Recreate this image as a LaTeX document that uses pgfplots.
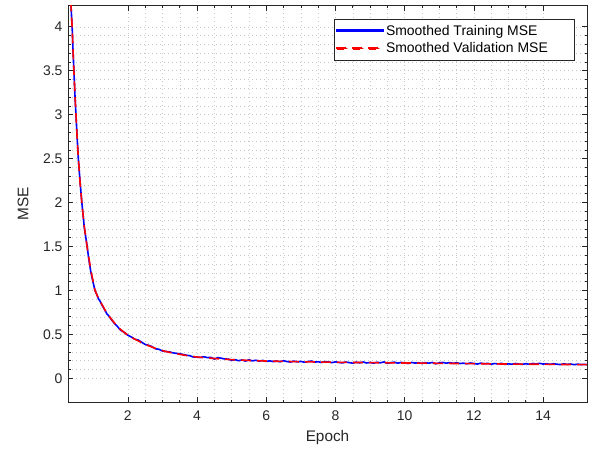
\documentclass[border=0pt]{standalone}
\usepackage{fontspec}
\setmainfont{Liberation Sans}
\usepackage{pgfplots}
\pgfplotsset{compat=1.18}
\usetikzlibrary{calc}
\definecolor{axgray}{gray}{0.15}
\definecolor{gridgray}{gray}{0.78}
\definecolor{mblue}{rgb}{0,0,1}
\definecolor{mred}{rgb}{1,0,0}
\begin{document}
\begin{tikzpicture}
\useasboundingbox (-68bp,-49bp) rectangle (525bp,402bp);
\begin{axis}[
  scale only axis,
  width=519bp, height=396.3bp,
  xmin=0.27, xmax=15.27,
  ymin=-0.27, ymax=4.24,
  xtick={2,4,...,14},
  ytick={0,0.5,...,4},
  yticklabels={0,0.5,1,1.5,2,2.5,3,3.5,4},
  minor x tick num=3,
  minor y tick num=4,
  grid=both,
  major grid style={gridgray, line width=0.5bp, dash pattern=on 1bp off 3bp},
  minor grid style={gridgray, line width=0.5bp, dash pattern=on 1bp off 3bp},
  tick align=inside,
  major tick length=5bp,
  minor tick length=2.5bp,
  axis line style={axgray, line width=0.6bp},
  every tick/.style={axgray, line width=0.6bp},
  tick label style={font=\fontsize{14}{16}\selectfont, text=axgray},
  /pgf/number format/assume math mode=true,
  xticklabel style={yshift=-5bp},
  yticklabel style={xshift=-2bp},
  xlabel={Epoch}, ylabel={MSE},
  label style={font=\fontsize{15.4}{17}\selectfont, text=axgray},
  xlabel style={at={($(axis description cs:0.5,0)+(0,-36bp)$)}, anchor=center},
  ylabel style={at={($(axis description cs:0,0.5)+(-45bp,0)$)}, anchor=center},
  legend style={at={(rel axis cs:0.975,0.967)}, anchor=north east,
    draw=axgray, fill=white,
    font=\fontsize{14}{16}\selectfont,
    inner xsep=2bp, inner ysep=4bp,
    row sep=2bp},
  legend cell align=left,
  clip=true,
]
\addplot[draw=mblue, line width=1.6bp,
  legend image code/.code={\fill[mblue] (0bp,-0.6bp) rectangle (46bp,0.6bp);}] coordinates {
(0.31,5.2) (0.33,4.7) (0.35,4.3) (0.37,4.14) (0.39,4.0) (0.415,3.73) (0.44,3.51) (0.47,3.23)
(0.50,3.0) (0.535,2.74) (0.57,2.49) (0.62,2.23) (0.67,2.0) (0.74,1.72) (0.82,1.51) (0.87,1.36)
(0.93,1.21) (0.99,1.10) (1.05,1.0) (1.10,0.955) (1.15,0.905) (1.20,0.875) (1.25,0.835) (1.30,0.80)
(1.35,0.765) (1.40,0.73) (1.45,0.71) (1.50,0.68) (1.55,0.655) (1.60,0.63) (1.65,0.61) (1.70,0.59)
(1.75,0.565) (1.80,0.545) (1.85,0.535) (1.90,0.52) (1.95,0.505) (2.00,0.49) (2.1,0.47) (2.2,0.445)
(2.3,0.435) (2.4,0.41) (2.5,0.385) (2.6,0.375) (2.7,0.36) (2.8,0.335) (2.9,0.33) (3.0,0.31)
(3.1,0.305) (3.2,0.30) (3.3,0.29) (3.4,0.283) (3.5,0.28) (3.6,0.27) (3.7,0.262) (3.8,0.256)
(3.9,0.24) (4.0,0.24) (4.1,0.237) (4.2,0.245) (4.3,0.235) (4.4,0.238) (4.5,0.218) (4.6,0.235)
(4.7,0.228) (4.8,0.22) (4.9,0.218) (5.0,0.205) (5.1,0.212) (5.2,0.20) (5.3,0.208) (5.4,0.196)
(5.5,0.21) (5.6,0.198) (5.7,0.205) (5.8,0.195) (5.9,0.203) (6.0,0.192) (6.1,0.198) (6.2,0.19)
(6.3,0.196) (6.4,0.188) (6.5,0.2) (6.6,0.19) (6.7,0.185) (6.8,0.195) (6.9,0.187) (7.0,0.192)
(7.1,0.183) (7.2,0.19) (7.3,0.196) (7.4,0.184) (7.5,0.188) (7.6,0.18) (7.7,0.19) (7.8,0.185)
(7.9,0.178) (8.0,0.187) (8.1,0.18) (8.2,0.175) (8.3,0.185) (8.4,0.178) (8.5,0.172) (8.6,0.183)
(8.7,0.176) (8.8,0.185) (8.9,0.174) (9.0,0.18) (9.1,0.172) (9.2,0.182) (9.3,0.176) (9.4,0.186)
(9.5,0.17) (9.6,0.178) (9.7,0.183) (9.8,0.172) (9.9,0.18) (10.0,0.176) (10.1,0.168) (10.2,0.18)
(10.3,0.173) (10.4,0.177) (10.5,0.168) (10.6,0.178) (10.7,0.172) (10.8,0.18) (10.9,0.165) (11.0,0.175)
(11.1,0.18) (11.2,0.172) (11.3,0.178) (11.4,0.17) (11.5,0.176) (11.6,0.168) (11.7,0.172) (11.8,0.165)
(11.9,0.174) (12.0,0.168) (12.1,0.162) (12.2,0.172) (12.3,0.165) (12.4,0.17) (12.5,0.16) (12.6,0.168)
(12.7,0.163) (12.8,0.17) (12.9,0.158) (13.0,0.164) (13.1,0.16) (13.2,0.168) (13.3,0.162) (13.4,0.158)
(13.5,0.166) (13.6,0.16) (13.7,0.168) (13.8,0.163) (13.9,0.17) (14.0,0.162) (14.1,0.165) (14.2,0.158)
(14.3,0.166) (14.4,0.16) (14.5,0.156) (14.6,0.164) (14.7,0.158) (14.8,0.162) (14.9,0.155) (15.0,0.16)
(15.1,0.156) (15.2,0.158) (15.27,0.155)
};
\addlegendentry{Smoothed Training MSE}
\addplot[draw=mred, line width=1.6bp, dash pattern=on 10bp off 6bp,
  legend image code/.code={\fill[mred] (0bp,-0.6bp) rectangle (10bp,0.6bp) (16bp,-0.6bp) rectangle (26bp,0.6bp) (32bp,-0.6bp) rectangle (42bp,0.6bp);}] coordinates {
(0.31,5.2) (0.33,4.7) (0.35,4.3) (0.37,4.13) (0.39,4.0) (0.415,3.74) (0.44,3.5) (0.47,3.24)
(0.50,3.0) (0.535,2.73) (0.57,2.5) (0.62,2.22) (0.67,2.0) (0.74,1.73) (0.82,1.5) (0.93,1.23)
(1.05,1.0) (1.15,0.91) (1.25,0.84) (1.35,0.77) (1.45,0.71) (1.55,0.66) (1.65,0.61) (1.75,0.57)
(1.85,0.535) (1.95,0.505) (2.0,0.49) (2.2,0.445) (2.4,0.405) (2.6,0.37) (2.8,0.34) (3.0,0.315)
(3.2,0.295) (3.4,0.28) (3.6,0.265) (3.8,0.252) (4.0,0.242) (4.5,0.225) (5.0,0.212) (5.5,0.203)
(6.0,0.196) (7.0,0.188) (8.0,0.182) (9.0,0.178) (10.0,0.174) (11.0,0.170) (12.0,0.166) (13.0,0.162)
(14.0,0.159) (15.27,0.155)
};
\addlegendentry{Smoothed Validation MSE\hspace*{22bp}}
\end{axis}
\end{tikzpicture}
\end{document}
